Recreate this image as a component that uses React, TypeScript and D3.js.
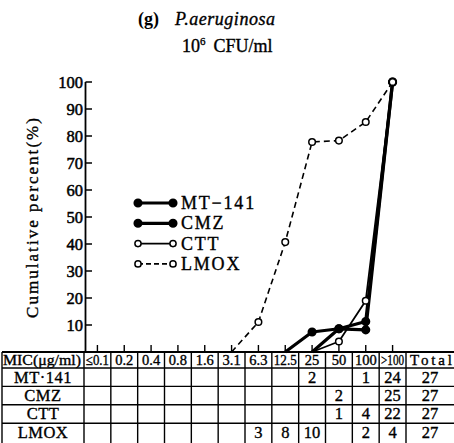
import React from "react";
import * as d3 from "d3";

const mics = ["≤0.1", "0.2", "0.4", "0.8", "1.6", "3.1", "6.3", "12.5", "25", "50", "100", ">100"];
const yTicks = [10, 20, 30, 40, 50, 60, 70, 80, 90, 100];

// cumulative percent (null = not drawn)
const mt141Pct = [null, null, null, null, null, null, null, 0, 7.4, 8.6, 11.3, 100];
const cmzPct = [null, null, null, null, null, null, null, null, 0, 8.6, 8.2, 100];
const cttPct = [null, null, null, null, null, null, null, null, 0, 3.9, 19, 100];
const lmoxPct = [null, null, null, null, null, 0, 11.1, 40.7, 77.8, 78.3, 85.2, 100];

// table counts
const rowNames = ["MT·141", "CMZ", "CTT", "LMOX"];
const mt141Counts = ["", "", "", "", "", "", "", "", "2", "", "1", "24"];
const cmzCounts = ["", "", "", "", "", "", "", "", "", "2", "", "25"];
const cttCounts = ["", "", "", "", "", "", "", "", "", "1", "4", "22"];
const lmoxCounts = ["", "", "", "", "", "", "3", "8", "10", "", "2", "4"];
const totals = ["27", "27", "27", "27"];

const seriesNames = ["MT−141", "CMZ", "CTT", "LMOX"];

const W = 454;
const H = 443;
const FONT = "'Liberation Serif', 'DejaVu Serif', serif";
const heavy = { stroke: "#000", strokeWidth: 0.35 };

export default function App() {
  const x = d3.scaleBand<string>().domain(mics).range([84, 406]).padding(0);
  const y = d3.scaleLinear().domain([0, 100]).range([352, 82]);
  const cx = (m: string) => (x(m) as number) + x.bandwidth() / 2;

  const series = [
    { name: seriesNames[0], vals: mt141Pct, filled: true, dash: undefined as string | undefined, sw: 3.2 },
    { name: seriesNames[1], vals: cmzPct, filled: true, dash: undefined, sw: 3.2 },
    { name: seriesNames[2], vals: cttPct, filled: false, dash: undefined, sw: 1.8 },
    { name: seriesNames[3], vals: lmoxPct, filled: false, dash: "6 4", sw: 1.6 },
  ];

  const line = d3
    .line<{ m: string; v: number | null }>()
    .defined((d) => d.v !== null)
    .x((d) => cx(d.m))
    .y((d) => y(d.v as number));

  const counts = [mt141Counts, cmzCounts, cttCounts, lmoxCounts];

  const tableTop = y(0);
  const headerH = 16;
  const rowH = 18.4;
  const rowTops = [0, 1, 2, 3].map((i) => tableTop + headerH + i * rowH);
  const colEdges = [2, ...mics.map((m) => x(m) as number), 406, 470];

  const legendX0 = 138;
  const legendX1 = 173;
  const legendY0 = 203;
  const legendStep = 20.3;

  return (
    <svg
      width={W}
      height={H}
      style={{ position: "absolute", left: 0, top: 0, background: "#fff" }}
      fontFamily={FONT}
    >
      <rect x={0} y={0} width={W} height={H} fill="#fff" />
      {/* title */}
      <text x={138} y={25} fontSize={18} fontWeight="bold">(g)</text>
      <text x={175} y={25} fontSize={18} fontStyle="italic" textLength={100} lengthAdjust="spacing" {...heavy}>P.aeruginosa</text>
      <text x={182} y={52} fontSize={18} {...heavy}>
        10<tspan dy={-7} fontSize={11}>6</tspan>
        <tspan dy={7} dx={8}>CFU/ml</tspan>
      </text>

      {/* y axis title */}
      <text
        transform={`translate(38,218) rotate(-90)`}
        textAnchor="middle"
        fontSize={17}
        textLength={200}
        lengthAdjust="spacing"
        {...heavy}
      >
        Cumulative percent(%)
      </text>

      {/* y axis */}
      <line x1={85.5} x2={85.5} y1={y(100)} y2={y(0)} stroke="#000" strokeWidth={1.8} />
      {yTicks.map((t) => (
        <g key={t}>
          <line x1={85.5} x2={92} y1={y(t)} y2={y(t)} stroke="#000" strokeWidth={1.5} />
          <text x={83} y={y(t) + 5.5} textAnchor="end" fontSize={16.5} {...heavy} strokeWidth={0.5}>{t}</text>
        </g>
      ))}

      {/* x ticks */}
      {mics.map((m) => (
        <line key={m} x1={cx(m)} x2={cx(m)} y1={tableTop} y2={tableTop - 7} stroke="#000" strokeWidth={1.4} />
      ))}

      {/* series lines */}
      {series.map((s) => (
        <path
          key={s.name}
          d={line(mics.map((m, i) => ({ m, v: s.vals[i] }))) || ""}
          fill="none"
          stroke="#000"
          strokeWidth={s.sw}
          strokeDasharray={s.dash}
          strokeLinejoin="round"
        />
      ))}
      {series.map((s) =>
        mics.map((m, i) => {
          const v = s.vals[i];
          if (v === null || v === 0) return null;
          return (
            <circle
              key={s.name + m}
              cx={cx(m)}
              cy={y(v)}
              r={s.filled ? 3.8 : 3.3}
              fill={s.filled ? "#000" : "#fff"}
              stroke="#000"
              strokeWidth={1.5}
            />
          );
        })
      )}

      {/* legend */}
      {series.map((s, i) => {
        const ly = legendY0 + i * legendStep;
        return (
          <g key={"lg" + s.name}>
            <line x1={legendX0} x2={legendX1} y1={ly} y2={ly} stroke="#000" strokeWidth={s.sw} strokeDasharray={s.dash ? "5 3" : undefined} />
            <circle cx={legendX0} cy={ly} r={s.filled ? 3.8 : 3.1} fill={s.filled ? "#000" : "#fff"} stroke="#000" strokeWidth={1.5} />
            <circle cx={legendX1} cy={ly} r={s.filled ? 3.8 : 3.1} fill={s.filled ? "#000" : "#fff"} stroke="#000" strokeWidth={1.5} />
            <text x={181} y={ly + 6} fontSize={18} letterSpacing={1.8} {...heavy}>{s.name}</text>
          </g>
        );
      })}

      {/* table */}
      <g stroke="#000" strokeWidth={1.4}>
        <line x1={2} x2={470} y1={tableTop} y2={tableTop} strokeWidth={1.8} />
        {rowTops.map((ry, i) => (
          <line key={"h" + i} x1={2} x2={470} y1={ry} y2={ry} />
        ))}
        {colEdges.map((ex, i) => (
          <line key={"v" + i} x1={ex} x2={ex} y1={tableTop} y2={H + 5} />
        ))}
      </g>
      <text x={42} y={tableTop + 12.5} textAnchor="middle" fontSize={15} textLength={78} lengthAdjust="spacingAndGlyphs" {...heavy}>MIC(μg/ml)</text>
      {mics.map((m) => (
        <text key={"hd" + m} x={cx(m)} y={tableTop + 12.5} textAnchor="middle" fontSize={14.5} textLength={m.length > 3 ? 23 : undefined} lengthAdjust="spacingAndGlyphs" {...heavy}>{m}</text>
      ))}
      <text x={410} y={tableTop + 12.5} fontSize={15} textLength={42} lengthAdjust="spacing" {...heavy}>Total</text>
      {rowNames.map((r, i) => (
        <g key={"r" + r}>
          <text x={43} y={rowTops[i] + 14.5} textAnchor="middle" fontSize={16.5} letterSpacing={0.5} {...heavy}>{r}</text>
          {counts[i].map((c, j) =>
            c ? (
              <text key={j} x={cx(mics[j])} y={rowTops[i] + 14.5} textAnchor="middle" fontSize={16.5} {...heavy}>{c}</text>
            ) : null
          )}
          <text x={430} y={rowTops[i] + 14.5} textAnchor="middle" fontSize={16.5} {...heavy}>{totals[i]}</text>
        </g>
      ))}
    </svg>
  );
}
